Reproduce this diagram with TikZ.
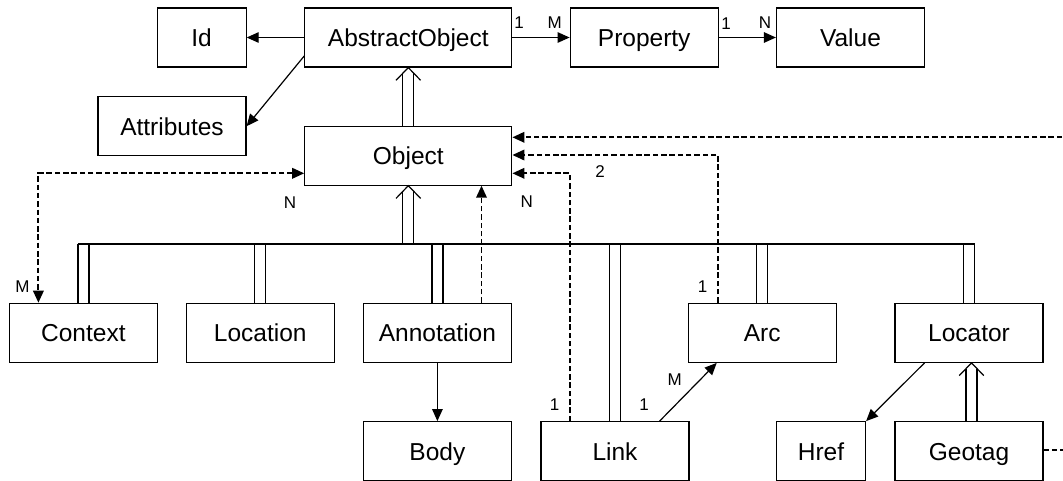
\documentclass[tikz,border=0pt]{standalone}
\usepackage{fontspec}
\setmainfont{Liberation Sans}
\usetikzlibrary{arrows.meta,calc}
\tikzset{
  box/.style={draw, line width=1.2pt, minimum height=59pt, inner sep=0pt,
    text height=17.6pt, text depth=0pt, font=\fontsize{24.5}{28}\selectfont},
  wide/.style={minimum width=148pt},
  narrow/.style={minimum width=89pt},
  big/.style={minimum width=207pt},
  tip/.tip={Triangle[length=12pt,width=10.5pt]},
  rel/.style={line width=1.2pt, -tip},
  ref/.style={line width=1.9pt, dash pattern=on 5.5pt off 2.8pt, -tip},
  refboth/.style={ref, tip-tip},
  gen/.style={line width=1.2pt},
  card/.style={font=\fontsize{17}{20}\selectfont, inner sep=0pt},
}
% generalisation: open arrowhead at #1 with a double shaft down to #2
\newcommand\genlink[2]{%
  \draw[gen] ($(#1)+(-12.3,12.7)$) -- (#1) -- ($(#1)+(12.3,12.7)$);
  \draw[gen] ($(#1)+(-5.5,5.7)$) -- ($(#2)+(-5.5,0)$);
  \draw[gen] ($(#1)+(5.5,5.7)$) -- ($(#2)+(5.5,0)$);
}
\begin{document}
\begin{tikzpicture}[x=1pt,y=-1pt]
\useasboundingbox (0,0) rectangle (1063,480);
\clip (0,0) rectangle (1063,480);

% classes
\node[box,narrow] (id)   at (201.6,37.5)  {Id};
\node[box,big]    (ao)   at (408.3,37.5)  {AbstractObject};
\node[box,wide]   (prop) at (644.2,37.5)  {Property};
\node[box,wide]   (val)  at (850.5,37.5)  {Value};
\node[box,wide]   (attr) at (172,126.2)   {Attributes};
\node[box,big]    (obj)  at (408.3,155.6) {Object};
\node[box,wide]   (ctx)  at (83.4,332.8)  {Context};
\node[box,wide]   (loc)  at (260.2,332.8) {Location};
\node[box,wide]   (ann)  at (437.4,332.8) {Annotation};
\node[box,wide]   (arc)  at (762.2,332.8) {Arc};
\node[box,wide]   (lctr) at (969,332.8)   {Locator};
\node[box,wide]   (body) at (437.4,451.2) {Body};
\node[box,wide]   (link) at (615,451.2)   {Link};
\node[box,narrow] (href) at (821,451.2)   {Href};
\node[box,wide]   (geo)  at (969,451.2)   {Geotag};

\coordinate (bus)  at (0,244);
\coordinate (rail) at (1075,0);

% associations
\draw[rel] (ao.west) -- (id.east);
\draw[rel] ($(ao.west)+(0,18.5)$) -- (attr.east);
\draw[rel] (ao.east) -- (prop.west);
\draw[rel] (prop.east) -- (val.west);
\draw[rel] (ann.south) -- (body.north);
\draw[rel] ($(link.north)+(44.6,0)$) -- ($(arc.south)+(-45.5,0)$);
\draw[rel] ($(lctr.south)+(-44.5,0)$) -- (href.north east);

% generalisation tree
\genlink{ao.south}{obj.north}
\genlink{obj.south}{obj.south |- bus}
\draw[gen] ($(ctx.north |- bus)+(-5.5,0)$) -- ($(lctr.north |- bus)+(5.5,0)$);
\foreach \n in {ctx,loc,ann,link,arc,lctr}{
  \draw[gen] ($(\n.north)+(-5.5,0)$) -- ($(\n.north |- bus)+(-5.5,0)$);
  \draw[gen] ($(\n.north)+(5.5,0)$) -- ($(\n.north |- bus)+(5.5,0)$);
}
\coordinate (lctrin) at ($(lctr.south)+(2.5,0)$);
\coordinate (geoout) at ($(geo.north)+(2.5,0)$);
\genlink{lctrin}{geoout}

% references to Object
\draw[refboth] ($(obj.west)+(0,17.7)$) -| ($(ctx.north west)+(29.6,0)$);
\coordinate (annref)  at ($(ann.north)+(44.1,0)$);
\draw[ref] (annref) -- (annref |- obj.south);
\coordinate (arcref)  at ($(arc.north)+(-44.2,0)$);
\draw[ref] (arcref) |- ($(obj.east)+(0,-0.6)$);
\coordinate (linkref) at ($(link.north)+(-45,0)$);
\draw[ref] (linkref) |- ($(obj.east)+(0,17.7)$);
\coordinate (georef)  at ($(geo.east)+(0,-1.2)$);
\draw[ref] (georef) -- (georef -| rail) |- ($(obj.east)+(0,-18.3)$);

% multiplicities
\node[card] (m1)  at (519,23)    {1};
\node[card] (m2)  at (554.6,23)  {M};
\node[card] (m3)  at (726,24)    {1};
\node[card] (m4)  at (765,23)    {N};
\node[card] (m5)  at (290,203)   {N};
\node[card] (m6)  at (22.4,286.7) {M};
\node[card] (m7)  at (526.7,201.7) {N};
\node[card] (m8)  at (600,171.7) {2};
\node[card] (m9)  at (702.5,286.7) {1};
\node[card] (m10) at (554.6,404.3) {1};
\node[card] (m11) at (644,404.3) {1};
\node[card] (m12) at (674.8,379.3) {M};
\end{tikzpicture}
\end{document}
